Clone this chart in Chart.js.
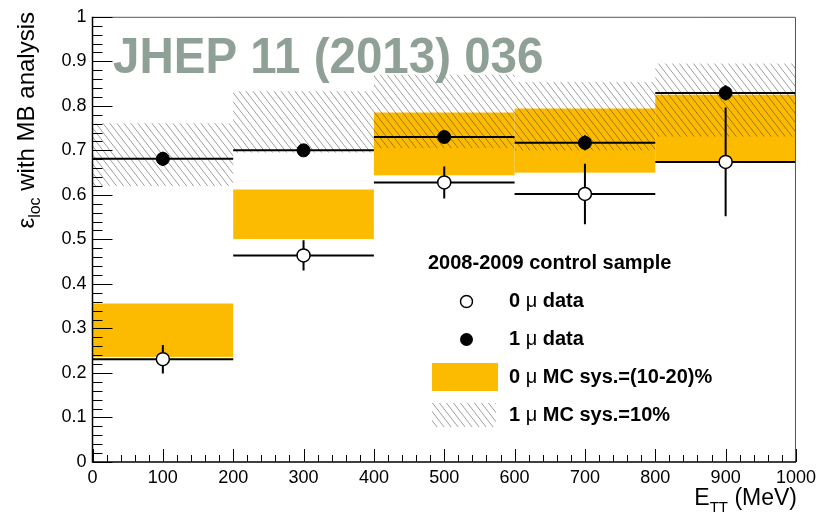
<!DOCTYPE html>
<html>
<head>
<meta charset="utf-8">
<script src="https://cdn.jsdelivr.net/npm/chart.js@4.4.1/dist/chart.umd.min.js"></script>
<style>
  html, body { margin: 0; padding: 0; background: #fff; }
  #wrap { width: 821px; height: 513px; position: relative; }
</style>
</head>
<body>
<div id="wrap"><canvas id="effChart"></canvas></div>
<script>
// E_TT bins (MeV)
const binEdges = [0, 200, 400, 600, 800, 1000];
const binCenters = [100, 300, 500, 700, 900];

// 0 mu data points and stat errors
const eff0mu = [0.231, 0.464, 0.628, 0.602, 0.674];
const err0mu = [0.032, 0.034, 0.036, 0.068, 0.122];

// 1 mu data points and stat errors
const eff1mu = [0.681, 0.700, 0.730, 0.717, 0.829];
const err1mu = [0.016, 0.010, 0.008, 0.017, 0.017];

// MC systematic bands
const mc0Low  = [0.236, 0.501, 0.644, 0.650, 0.675];
const mc0High = [0.356, 0.612, 0.785, 0.794, 0.825];
const mc1Low  = [0.620, 0.695, 0.705, 0.700, 0.731];
const mc1High = [0.761, 0.833, 0.870, 0.854, 0.895];

const xTickLabels = ["0", "100", "200", "300", "400", "500", "600", "700", "800", "900", "1000"];
const yTickLabels = ["0", "0.1", "0.2", "0.3", "0.4", "0.5", "0.6", "0.7", "0.8", "0.9", "1"];

const legendTitle = "2008-2009 control sample";
const legendLabels = [
    ["0 ", "\u03bc", " data"],
    ["1 ", "\u03bc", " data"],
    ["0 ", "\u03bc", " MC sys.=(10-20)%"],
    ["1 ", "\u03bc", " MC sys.=10%"]
];
const watermark = "JHEP 11 (2013) 036";

const FONT = '"Liberation Sans", Arial, Helvetica, sans-serif';
const ORANGE = "#fdbb00";

let hatchPattern = null;
function getHatch(ctx) {
    if (hatchPattern) return hatchPattern;
    const w = 7, h = 9;
    const c = document.createElement("canvas");
    c.width = w; c.height = h;
    const g = c.getContext("2d");
    g.strokeStyle = "rgba(40,40,40,0.5)";
    g.lineWidth = 0.9;
    [-w, 0, w].forEach(function (dx) {
        g.beginPath();
        g.moveTo(dx, 0);
        g.lineTo(dx + w, h);
        g.stroke();
    });
    hatchPattern = ctx.createPattern(c, "repeat");
    return hatchPattern;
}

// draw a run of text pieces (different fonts / baseline shifts) one after another
function drawRuns(ctx, runs, x, y, align) {
    let total = 0;
    runs.forEach(function (r) { ctx.font = r.font; total += ctx.measureText(r.text).width; });
    let cx = align === "right" ? x - total : x;
    ctx.textAlign = "left";
    runs.forEach(function (r) {
        ctx.font = r.font;
        ctx.fillText(r.text, cx, y + (r.dy || 0));
        cx += ctx.measureText(r.text).width;
    });
}

function legendRuns(parts, size) {
    return [
        { text: parts[0], font: "bold " + size + "px " + FONT },
        { text: parts[1], font: size + "px " + FONT },
        { text: parts[2], font: "bold " + size + "px " + FONT }
    ];
}

const bandsPlugin = {
    id: "bands",
    beforeDatasetsDraw(chart) {
        const ctx = chart.ctx;
        const xs = chart.scales.x, ys = chart.scales.y;
        ctx.save();
        for (let i = 0; i < binCenters.length; i++) {
            const x0 = xs.getPixelForValue(binEdges[i]);
            const x1 = xs.getPixelForValue(binEdges[i + 1]);
            // 0 mu MC band
            const yt = ys.getPixelForValue(mc0High[i]), yb = ys.getPixelForValue(mc0Low[i]);
            ctx.fillStyle = ORANGE;
            ctx.fillRect(x0, yt, x1 - x0, yb - yt);
        }
        for (let i = 0; i < binCenters.length; i++) {
            const x0 = xs.getPixelForValue(binEdges[i]);
            const x1 = xs.getPixelForValue(binEdges[i + 1]);
            // 1 mu MC band (hatched)
            const yt = ys.getPixelForValue(mc1High[i]), yb = ys.getPixelForValue(mc1Low[i]);
            ctx.fillStyle = getHatch(ctx);
            ctx.fillRect(x0, yt, x1 - x0, yb - yt);
        }
        // bin-width lines and stat error bars
        ctx.strokeStyle = "#000";
        ctx.lineWidth = 2;
        [[eff0mu, err0mu], [eff1mu, err1mu]].forEach(function (s) {
            const vals = s[0], errs = s[1];
            for (let i = 0; i < binCenters.length; i++) {
                const x0 = xs.getPixelForValue(binEdges[i]);
                const x1 = xs.getPixelForValue(binEdges[i + 1]);
                const xc = xs.getPixelForValue(binCenters[i]);
                const y = ys.getPixelForValue(vals[i]);
                ctx.beginPath();
                ctx.moveTo(x0, y); ctx.lineTo(x1, y);
                ctx.moveTo(xc, ys.getPixelForValue(vals[i] + errs[i]));
                ctx.lineTo(xc, ys.getPixelForValue(vals[i] - errs[i]));
                ctx.stroke();
            }
        });
        ctx.restore();
    },
    afterDraw(chart) {
        const ctx = chart.ctx;
        const a = chart.chartArea;
        const xs = chart.scales.x, ys = chart.scales.y;
        ctx.save();

        // frame
        ctx.lineWidth = 1;
        ctx.strokeStyle = "#555";
        ctx.beginPath();
        ctx.moveTo(a.left, a.top + 0.5); ctx.lineTo(a.right - 0.5, a.top + 0.5); ctx.lineTo(a.right - 0.5, a.bottom);
        ctx.stroke();
        ctx.strokeStyle = "#000";
        ctx.lineWidth = 1.5;
        ctx.beginPath();
        ctx.moveTo(a.left, a.top); ctx.lineTo(a.left, a.bottom); ctx.lineTo(a.right, a.bottom);
        ctx.stroke();

        // inward ticks
        ctx.lineWidth = 1;
        ctx.beginPath();
        for (let i = 0; i <= 50; i++) {
            const py = Math.round(ys.getPixelForValue(i * 0.02)) + 0.5;
            const len = i % 5 === 0 ? 20 : 10;
            ctx.moveTo(a.left, py); ctx.lineTo(a.left + len, py);
            const px = Math.round(xs.getPixelForValue(i * 20)) + 0.5;
            const lx = i % 5 === 0 ? 13 : 7;
            ctx.moveTo(px, a.bottom); ctx.lineTo(px, a.bottom - lx);
        }
        ctx.stroke();

        // legend
        ctx.fillStyle = "#000";
        ctx.textBaseline = "middle";
        drawRuns(ctx, [{ text: legendTitle, font: "bold 20px " + FONT }], 428, 263, "left");
        const rowY = [301, 339, 377, 415];
        legendLabels.forEach(function (parts, i) {
            drawRuns(ctx, legendRuns(parts, 20), 509, rowY[i], "left");
        });
        ctx.beginPath();
        ctx.arc(466.5, 301.5, 6, 0, Math.PI * 2);
        ctx.fillStyle = "#fff"; ctx.fill();
        ctx.strokeStyle = "#000"; ctx.lineWidth = 1.5; ctx.stroke();
        ctx.beginPath();
        ctx.arc(466.5, 339.5, 6.5, 0, Math.PI * 2);
        ctx.fillStyle = "#000"; ctx.fill();
        ctx.fillStyle = ORANGE;
        ctx.fillRect(432, 363, 66, 28);
        ctx.fillStyle = getHatch(ctx);
        ctx.fillRect(432, 403, 64, 24);

        // axis titles
        ctx.fillStyle = "#000";
        ctx.textBaseline = "alphabetic";
        drawRuns(ctx, [
            { text: "E", font: "23px " + FONT },
            { text: "TT", font: "15px " + FONT, dy: 7 },
            { text: " (MeV)", font: "23px " + FONT }
        ], 797, 505, "right");

        ctx.save();
        ctx.translate(34, 12);
        ctx.rotate(-Math.PI / 2);
        drawRuns(ctx, [
            { text: "\u03b5", font: "24px " + FONT },
            { text: "loc", font: "16px " + FONT, dy: 6 },
            { text: " with MB analysis", font: "24px " + FONT }
        ], 0, 0, "right");
        ctx.restore();

        // journal reference
        ctx.fillStyle = "#8fa096";
        ctx.save();
        ctx.translate(113, 73);
        ctx.scale(0.95, 1);
        ctx.font = "bold 50px " + FONT;
        ctx.fillText(watermark, 0, 0);
        ctx.restore();

        ctx.restore();
    }
};

new Chart(document.getElementById("effChart"), {
    type: "scatter",
    data: {
        datasets: [
            {
                label: "0 mu data",
                data: binCenters.map(function (x, i) { return { x: x, y: eff0mu[i] }; }),
                pointRadius: 6.5,
                pointBackgroundColor: "#fff",
                pointBorderColor: "#000",
                pointBorderWidth: 1.5
            },
            {
                label: "1 mu data",
                data: binCenters.map(function (x, i) { return { x: x, y: eff1mu[i] }; }),
                pointRadius: 6.5,
                pointBackgroundColor: "#000",
                pointBorderColor: "#000",
                pointBorderWidth: 1
            }
        ]
    },
    options: {
        responsive: true,
        maintainAspectRatio: false,
        animation: false,
        events: [],
        layout: { padding: { top: 15, right: 21, left: 0, bottom: 0 } },
        plugins: { legend: { display: false }, tooltip: { enabled: false } },
        scales: {
            x: {
                type: "linear",
                min: 0, max: 1000,
                grid: { display: false, drawTicks: false },
                border: { display: false },
                ticks: {
                    stepSize: 100, padding: 5, color: "#000", maxRotation: 0,
                    font: { family: FONT, size: 18 },
                    callback: function (v, i) { return xTickLabels[i]; }
                },
                afterFit: function (scale) { scale.height = 51; }
            },
            y: {
                type: "linear",
                min: 0, max: 1,
                grid: { display: false, drawTicks: false },
                border: { display: false },
                ticks: {
                    stepSize: 0.1, padding: 6, color: "#000",
                    font: { family: FONT, size: 18 },
                    callback: function (v, i) { return yTickLabels[i]; }
                },
                afterFit: function (scale) { scale.width = 92.5; }
            }
        }
    },
    plugins: [bandsPlugin]
});
</script>
</body>
</html>
